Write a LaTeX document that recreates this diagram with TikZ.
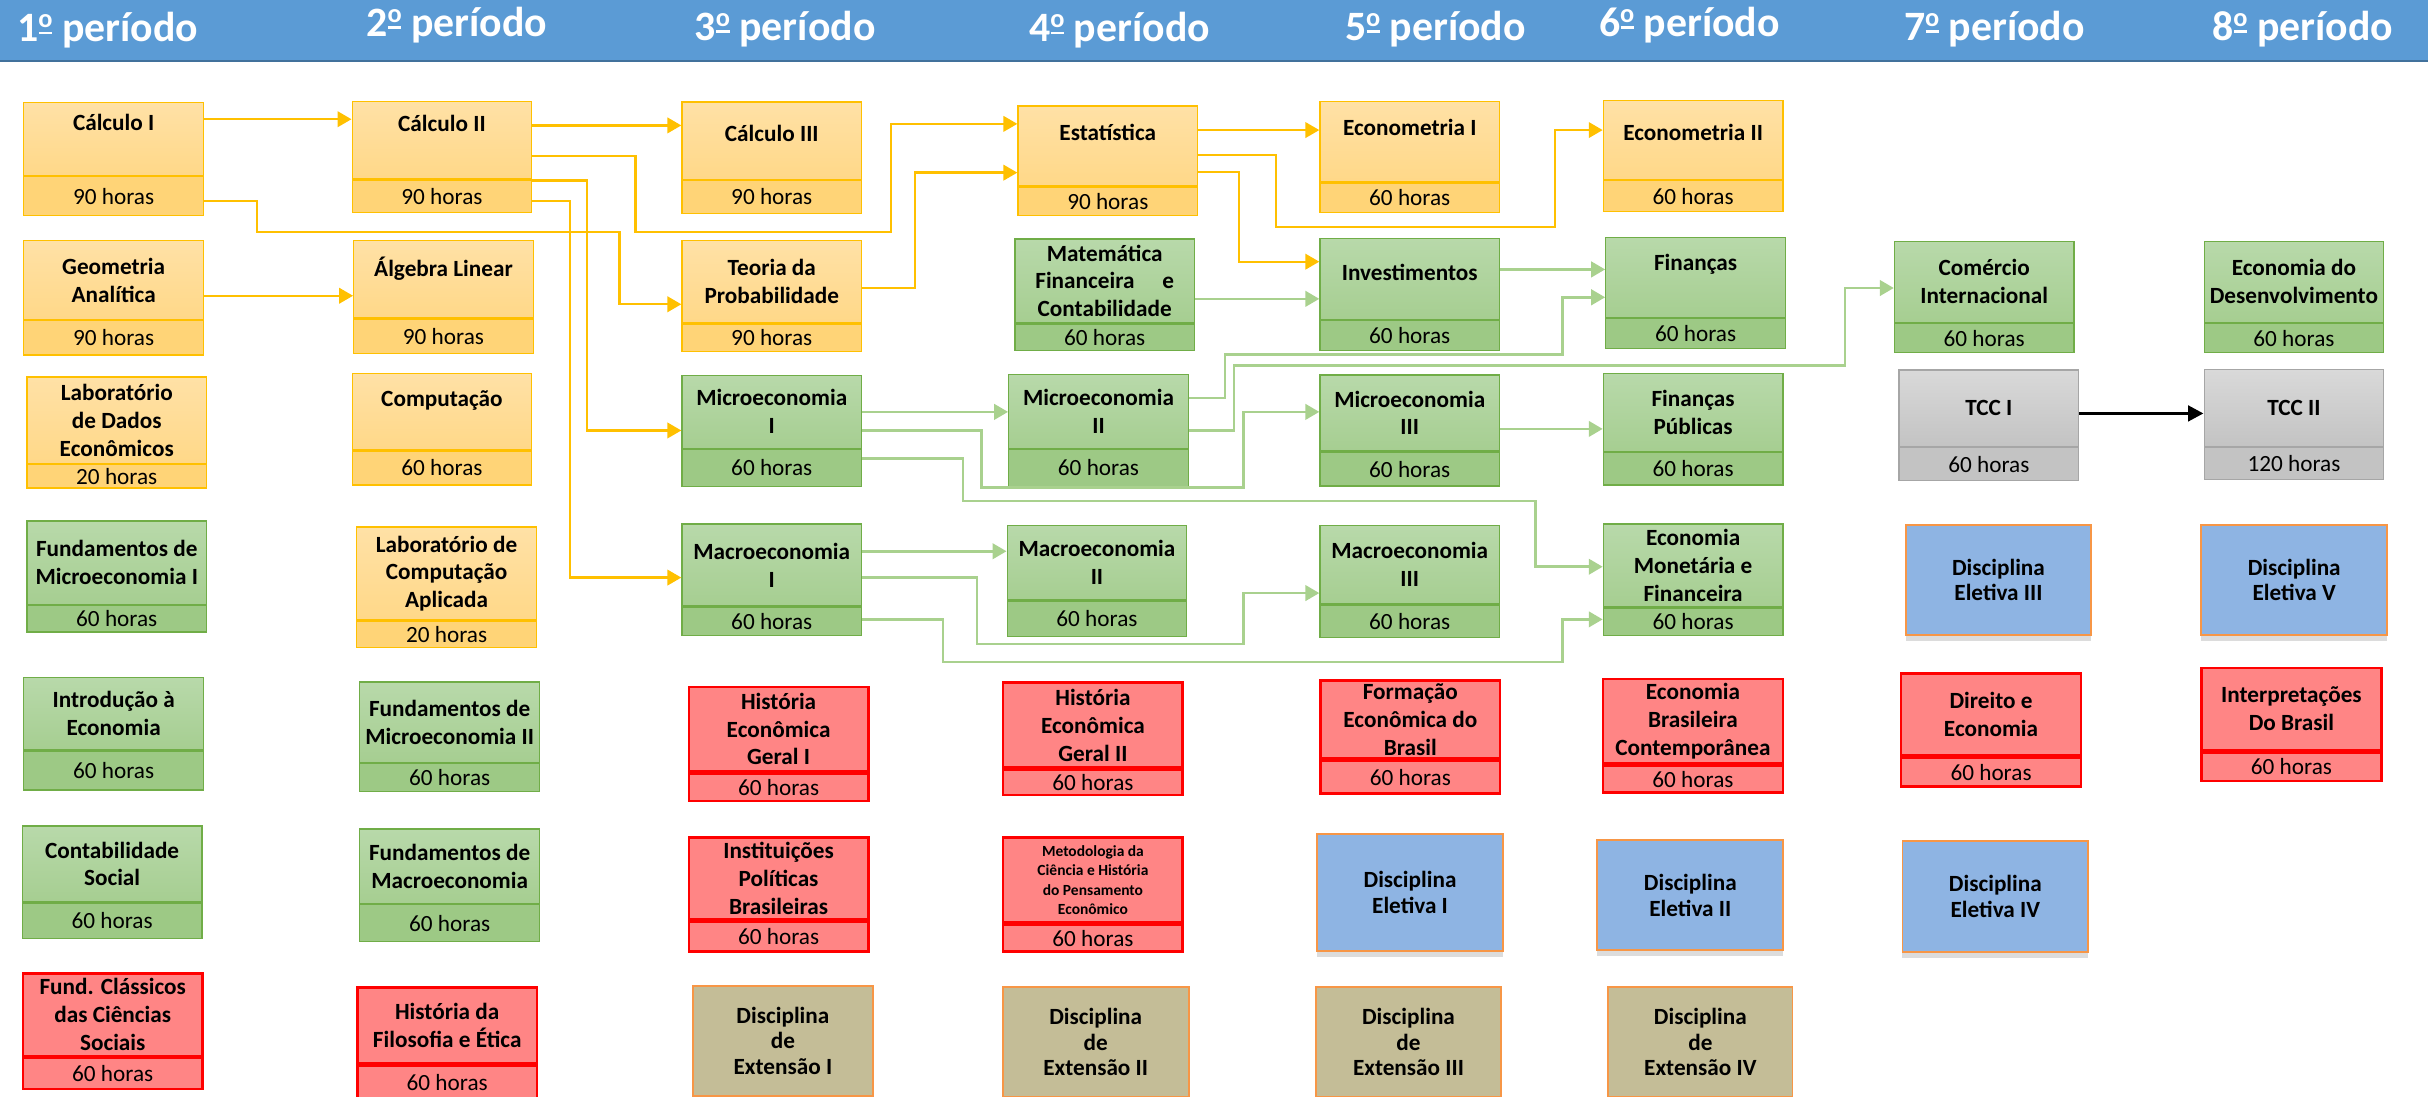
\documentclass[tikz,border=0pt]{standalone}
\usepackage{fontspec}
\setmainfont{Carlito}
\usetikzlibrary{arrows.meta,positioning,shadows}

\definecolor{hdrblue}{HTML}{5B9BD5}
\definecolor{hdrline}{HTML}{41719C}
\definecolor{ylwline}{HTML}{FFC000}
\definecolor{ylwtop}{HTML}{FFE1A6}
\definecolor{ylwmid}{HTML}{FFD888}
\definecolor{ylwbot}{HTML}{FFD477}
\definecolor{grnline}{HTML}{70AD47}
\definecolor{grntop}{HTML}{B8D9AA}
\definecolor{grnmid}{HTML}{A6CE91}
\definecolor{grnbot}{HTML}{9DC985}
\definecolor{grnedge}{HTML}{A9D18E}
\definecolor{redfill}{HTML}{FF8585}
\definecolor{redline}{HTML}{FF0000}
\definecolor{tccline}{HTML}{A6A6A6}
\definecolor{tcctop}{HTML}{D9D9D9}
\definecolor{tccbot}{HTML}{C3C3C3}
\definecolor{eletfill}{HTML}{8EB4E3}
\definecolor{extfill}{HTML}{C4BD97}
\definecolor{orgline}{HTML}{F79646}

% o ordinal sublinhado, como no Calibri
\newcommand{\ordo}{\rlap{\hspace{0.3pt}\rule[5pt]{8.6pt}{1.6pt}}\raisebox{9pt}{\fontsize{17}{17}\selectfont o}}

\begin{document}
\begin{tikzpicture}[x=1pt,y=-1pt]
        \tikzset{part/.style = {rectangle, draw, inner sep=0pt, minimum width=116pt, line width=0.8pt}};
        \tikzset{top/.style = {part, anchor=north west, align=center, font=\bfseries\fontsize{15}{18}\selectfont}};
        \tikzset{bot/.style = {part, font=\fontsize{15}{18}\selectfont}};
        \tikzset{ytop/.style = {top, draw=ylwline, top color=ylwtop, bottom color=ylwmid}};
        \tikzset{ybot/.style = {bot, draw=ylwline, fill=ylwbot}};
        \tikzset{gtop/.style = {top, draw=grnline, top color=grntop, bottom color=grnmid}};
        \tikzset{gbot/.style = {bot, draw=grnline, fill=grnbot}};
        \tikzset{rtop/.style = {top, draw=redline, fill=redfill, line width=1.6pt}};
        \tikzset{rbot/.style = {bot, draw=redline, fill=redfill, line width=1.6pt}};
        \tikzset{ktop/.style = {top, draw=tccline, top color=tcctop, bottom color=tccbot}};
        \tikzset{kbot/.style = {bot, draw=tccline, fill=tccbot}};
        \tikzset{eletiva/.style = {top, minimum width=120pt, draw=orgline, fill=eletfill, line width=1.2pt,
            font=\bfseries\fontsize{15}{16.5}\selectfont,
            drop shadow={shadow xshift=0pt, shadow yshift=-4pt, opacity=0.3, fill=black!45}}};
        \tikzset{extensao/.style = {eletiva, fill=extfill}};
        \tikzset{hdr/.style = {anchor=base, inner sep=0pt, text=white, font=\bfseries\fontsize{27}{30}\selectfont}};
        \tikzset{yedge/.style = {->, > = {Triangle[length=9pt,width=10pt]}, draw=ylwline, line width=1.5pt}};
        \tikzset{gedge/.style = {->, > = {Triangle[length=9pt,width=10pt]}, draw=grnedge, line width=1.7pt}};
        \tikzset{kedge/.style = {->, > = {Triangle[length=10pt,width=10pt]}, draw=black, line width=2.2pt}};

        \useasboundingbox (0,0) rectangle (1568,708);
        \fill[hdrblue] (0,0) rectangle (1568,38.5);
        \draw[hdrline, line width=1.5pt] (0,39.2) -- (1568,39.2);

        \node[hdr] (p1) at (69.5,27) {1\ordo{} período};
        \node[hdr] (p2) at (295,23.7) {2\ordo{} período};
        \node[hdr] (p3) at (507,26) {3\ordo{} período};
        \node[hdr] (p4) at (723,27) {4\ordo{} período};
        \node[hdr] (p5) at (927,26) {5\ordo{} período};
        \node[hdr] (p6) at (1091,23.7) {6\ordo{} período};
        \node[hdr] (p7) at (1288,26.3) {7\ordo{} período};
        \node[hdr] (p8) at (1487,26.3) {8\ordo{} período};

        % 1o periodo
        \node[ytop, minimum height=47, text depth=22pt] (calcI) at (15,66) {Cálculo I};
        \node[ybot, minimum height=25, below=0pt of calcI] (calcIh) {90 horas};
        \node[ytop, minimum height=51] (geoA) at (15,155) {Geometria\\Analítica};
        \node[ybot, minimum height=22, below=0pt of geoA] (geoAh) {90 horas};
        \node[ytop, minimum height=56] (labDE) at (17,243) {Laboratório\\de Dados\\Econômicos};
        \node[ybot, minimum height=15, below=0pt of labDE] (labDEh) {20 horas};
        \node[gtop, minimum height=54] (fundMicI) at (17,336) {Fundamentos de\\Microeconomia I};
        \node[gbot, minimum height=17, below=0pt of fundMicI] (fundMicIh) {60 horas};
        \node[gtop, minimum height=47] (introEc) at (15,437) {Introdução à\\Economia};
        \node[gbot, minimum height=25, below=0pt of introEc] (introEch) {60 horas};
        \node[gtop, minimum height=49] (contSoc) at (14,533) {Contabilidade\\Social};
        \node[gbot, minimum height=23, below=0pt of contSoc] (contSoch) {60 horas};
        \node[rtop, minimum height=53] (fundClass) at (14,628) {Fund. Clássicos\\das Ciências\\Sociais};
        \node[rbot, minimum height=20, below=0pt of fundClass] (fundClassh) {60 horas};

        % 2o periodo
        \node[ytop, minimum height=50, text depth=22pt] (calcII) at (227,65) {Cálculo II};
        \node[ybot, minimum height=21, below=0pt of calcII] (calcIIh) {90 horas};
        \node[ytop, minimum height=50, text depth=16pt] (algLin) at (228,155) {Álgebra Linear};
        \node[ybot, minimum height=22, below=0pt of algLin] (algLinh) {90 horas};
        \node[ytop, minimum height=49, text depth=17pt] (comp) at (227,241) {Computação};
        \node[ybot, minimum height=22, below=0pt of comp] (comph) {60 horas};
        \node[ytop, minimum height=60] (labComp) at (230,340) {Laboratório de\\Computação\\Aplicada};
        \node[ybot, minimum height=17, below=0pt of labComp] (labComph) {20 horas};
        \node[gtop, minimum height=52] (fundMicII) at (232,440) {Fundamentos de\\Microeconomia II};
        \node[gbot, minimum height=18, below=0pt of fundMicII] (fundMicIIh) {60 horas};
        \node[gtop, minimum height=48] (fundMac) at (232,535) {Fundamentos de\\Macroeconomia};
        \node[gbot, minimum height=24, below=0pt of fundMac] (fundMach) {60 horas};
        \node[rtop, minimum height=49] (histFil) at (230,637) {História da\\Filosofia e Ética};
        \node[rbot, minimum height=22, below=0pt of histFil] (histFilh) {60 horas};

        % 3o periodo
        \node[ytop, minimum height=50, text depth=10pt] (calcIII) at (440,65.5) {Cálculo III};
        \node[ybot, minimum height=21, below=0pt of calcIII] (calcIIIh) {90 horas};
        \node[ytop, minimum height=53] (teoria) at (440,155) {Teoria da\\Probabilidade};
        \node[ybot, minimum height=18, below=0pt of teoria] (teoriah) {90 horas};
        \node[gtop, minimum height=47] (micI) at (440,242) {Microeconomia\\I};
        \node[gbot, minimum height=24, below=0pt of micI] (micIh) {60 horas};
        \node[gtop, minimum height=53] (macI) at (440,338) {Macroeconomia\\I};
        \node[gbot, minimum height=18, below=0pt of macI] (macIh) {60 horas};
        \node[rtop, minimum height=54] (histEcI) at (444,443) {História\\Econômica\\Geral I};
        \node[rbot, minimum height=18, below=0pt of histEcI] (histEcIh) {60 horas};
        \node[rtop, minimum height=53] (instPol) at (444,540) {Instituições\\Políticas\\Brasileiras};
        \node[rbot, minimum height=19, below=0pt of instPol] (instPolh) {60 horas};
        \node[extensao, minimum width=116pt, minimum height=71] (ext1) at (447,636) {Disciplina\\de\\Extensão I};

        % 4o periodo
        \node[ytop, minimum height=51.5, text depth=17pt] (estat) at (657,68) {Estatística};
        \node[ybot, minimum height=18.5, below=0pt of estat] (estath) {90 horas};
        \node[gtop, minimum height=54] (matFin) at (655,154) {Matemática\\Financeira\hspace{18pt}e\\Contabilidade};
        \node[gbot, minimum height=17, below=0pt of matFin] (matFinh) {60 horas};
        \node[gtop, minimum height=47.5] (micII) at (651,241.5) {Microeconomia\\II};
        \node[gbot, minimum height=24, below=0pt of micII] (micIIh) {60 horas};
        \node[gtop, minimum height=48] (macII) at (650,339) {Macroeconomia\\II};
        \node[gbot, minimum height=23, below=0pt of macII] (macIIh) {60 horas};
        \node[rtop, minimum height=55] (histEcII) at (647,440) {História\\Econômica\\Geral II};
        \node[rbot, minimum height=16, below=0pt of histEcII] (histEcIIh) {60 horas};
        \node[rtop, minimum height=55, font=\bfseries\fontsize{10}{12.5}\selectfont] (metod) at (647,540)
            {Metodologia da\\Ciência e História\\do Pensamento\\Econômico};
        \node[rbot, minimum height=17, below=0pt of metod] (metodh) {60 horas};
        \node[extensao, minimum height=71] (ext2) at (647,637) {Disciplina\\de\\Extensão II};

        % 5o periodo
        \node[ytop, minimum height=52, text depth=18pt] (econI) at (852,65) {Econometria I};
        \node[ybot, minimum height=19, below=0pt of econI] (econIh) {60 horas};
        \node[gtop, minimum height=52.5, text depth=9pt] (invest) at (852,153.5) {Investimentos};
        \node[gbot, minimum height=19, below=0pt of invest] (investh) {60 horas};
        \node[gtop, minimum height=49] (micIII) at (852,241.7) {Microeconomia\\III};
        \node[gbot, minimum height=22, below=0pt of micIII] (micIIIh) {60 horas};
        \node[gtop, minimum height=50.6] (macIII) at (852,339) {Macroeconomia\\III};
        \node[gbot, minimum height=21, below=0pt of macIII] (macIIIh) {60 horas};
        \node[rtop, minimum height=50.4] (formEc) at (852,438.6) {Formação\\Econômica do\\Brasil};
        \node[rbot, minimum height=21, below=0pt of formEc] (formEch) {60 horas};
        \node[eletiva, minimum height=75.5] (elet1) at (850,538) {Disciplina\\Eletiva I};
        \node[extensao, minimum height=71] (ext3) at (849,637) {Disciplina\\de\\Extensão III};

        % 6o periodo
        \node[ytop, minimum height=51, text depth=10pt] (econII) at (1035,64.6) {Econometria II};
        \node[ybot, minimum height=20, below=0pt of econII] (econIIh) {60 horas};
        \node[gtop, minimum height=51.5, text depth=19pt] (finan) at (1036.6,153) {Finanças};
        \node[gbot, minimum height=19.5, below=0pt of finan] (finanh) {60 horas};
        \node[gtop, minimum height=50.2] (finPub) at (1035,240.8) {Finanças\\Públicas};
        \node[gbot, minimum height=21, below=0pt of finPub] (finPubh) {60 horas};
        \node[gtop, minimum height=53.4] (ecMon) at (1035,338) {Economia\\Monetária e\\Financeira};
        \node[gbot, minimum height=17.6, below=0pt of ecMon] (ecMonh) {60 horas};
        \node[rtop, minimum height=54.4] (ecBras) at (1034.5,437.6) {Economia\\Brasileira\\Contemporânea};
        \node[rbot, minimum height=17.5, below=0pt of ecBras] (ecBrash) {60 horas};
        \node[eletiva, minimum height=71] (elet2) at (1031,542) {Disciplina\\Eletiva II};
        \node[extensao, minimum width=119pt, minimum height=71] (ext4) at (1038,637) {Disciplina\\de\\Extensão IV};

        % 7o periodo
        \node[gtop, minimum height=52.3] (comInt) at (1223,155.4) {Comércio\\Internacional};
        \node[gbot, minimum height=18.8, below=0pt of comInt] (comInth) {60 horas};
        \node[ktop, minimum height=49.5] (tccI) at (1226,238.5) {TCC I};
        \node[kbot, minimum height=21, below=0pt of tccI] (tccIh) {60 horas};
        \node[eletiva, minimum height=71] (elet3) at (1230,338.5) {Disciplina\\Eletiva III};
        \node[rtop, minimum height=53] (direito) at (1227,434) {Direito e\\Economia};
        \node[rbot, minimum height=18.6, below=0pt of direito] (direitoh) {60 horas};
        \node[eletiva, minimum height=71.5] (elet4) at (1228,542.5) {Disciplina\\Eletiva IV};

        % 8o periodo
        \node[gtop, minimum height=52.3] (ecDes) at (1423,155.4) {Economia do\\Desenvolvimento};
        \node[gbot, minimum height=18.8, below=0pt of ecDes] (ecDesh) {60 horas};
        \node[ktop, minimum height=49.6] (tccII) at (1423,238.4) {TCC II};
        \node[kbot, minimum height=20.5, below=0pt of tccII] (tccIIh) {120 horas};
        \node[eletiva, minimum height=71] (elet5) at (1421,338.5) {Disciplina\\Eletiva V};
        \node[rtop, minimum height=53] (interp) at (1421,430.5) {Interpretações\\Do Brasil};
        \node[rbot, minimum height=18.3, below=0pt of interp] (interph) {60 horas};

        % pre-requisitos (amarelo)
        \draw[yedge] (calcI.east |- 0,77) -- (calcII.west |- 0,77);
        \draw[yedge] (calcIh.east |- 0,130) -| (166,150) -| (400,196.5) -- (teoria.west |- 0,196.5);
        \draw[yedge] (calcII.east |- 0,81) -- (calcIII.west |- 0,81);
        \draw[yedge] (calcII.east |- 0,100.6) -| (410.5,150) -| (575.5,80) -- (estat.west |- 0,80);
        \draw[yedge] (teoria.east |- 0,186) -| (591,111.5) -- (estat.west |- 0,111.5);
        \draw[yedge] (calcIIh.east |- 0,116.5) -| (379,278) -- (micI.west |- 0,278);
        \draw[yedge] (calcIIh.east |- 0,130) -| (368,373) -- (macI.west |- 0,373);
        \draw[yedge] (geoA.east |- 0,191) -- (algLin.west |- 0,191);
        \draw[yedge] (estat.east |- 0,84) -- (econI.west |- 0,84);
        \draw[yedge] (estat.east |- 0,100) -| (824,146.5) -| (1004,84) -- (econII.west |- 0,84);
        \draw[yedge] (estat.east |- 0,111) -| (800,169) -- (invest.west |- 0,169);

        % pre-requisitos (verde)
        \draw[gedge] (matFin.east |- 0,193) -- (invest.west |- 0,193);
        \draw[gedge] (invest.east |- 0,174) -- (finan.west |- 0,174);
        \draw[gedge] (micII.east |- 0,257) -| (791,229) -| (1009,192) -- (finan.west |- 0,192);
        \draw[gedge] (micII.east |- 0,278) -| (797,236) -| (1191.5,186) -- (comInt.west |- 0,186);
        \draw[gedge] (micI.east |- 0,266) -- (micII.west |- 0,266);
        \draw[gedge] (micI.east |- 0,278) -| (634,315) -| (803,266) -- (micIII.west |- 0,266);
        \draw[gedge] (micIh.east |- 0,296) -| (622,323.5) -| (991.5,366) -- (ecMon.west |- 0,366);
        \draw[gedge] (micIII.east |- 0,277) -- (finPub.west |- 0,277);
        \draw[gedge] (macI.east |- 0,356) -- (macII.west |- 0,356);
        \draw[gedge] (macI.east |- 0,373) -| (631,416) -| (803,383) -- (macIII.west |- 0,383);
        \draw[gedge] (macIh.east |- 0,400) -| (609,427.5) -| (1009,400) -- (ecMonh.west |- 0,400);

        \draw[kedge] (tccI.east |- 0,267) -- (tccII.west |- 0,267);
\end{tikzpicture}
\end{document}
